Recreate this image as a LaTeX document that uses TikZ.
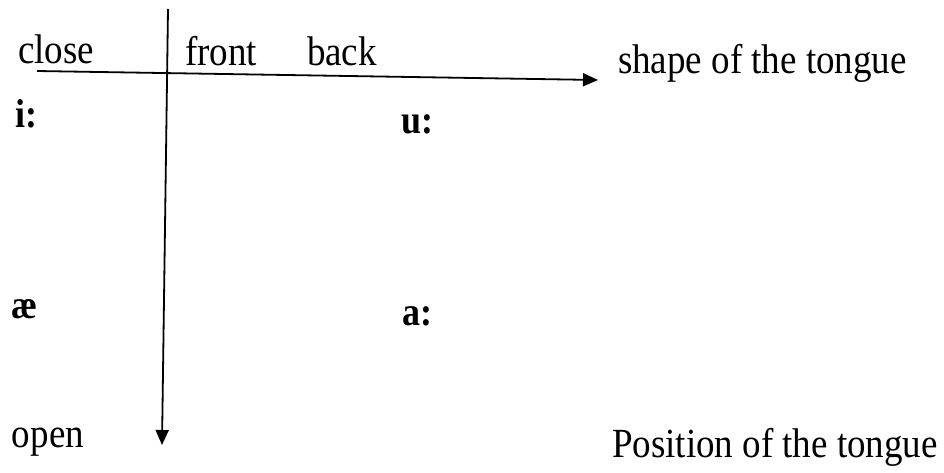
\documentclass[tikz,border=0pt]{standalone}
\usepackage{fontspec}
\setmainfont{Liberation Serif}
\usepackage{graphicx}
\usetikzlibrary{arrows.meta}
\newcommand{\vstretch}[1]{\scalebox{1}[1.12]{#1}}
\tikzset{
  lbl/.style={inner sep=0pt, outer sep=0pt, anchor=base west, font=\fontsize{37}{40}\selectfont},
  vowel/.style={inner sep=0pt, outer sep=0pt, anchor=base west, font=\fontsize{36}{40}\selectfont\bfseries},
  axis/.style={line width=1.8pt, -{Triangle[length=15pt,width=13pt]}}
}
\begin{document}
\begin{tikzpicture}[x=1pt,y=-1pt]
\useasboundingbox[fill=white] (0,0) rectangle (944,472);
\coordinate (hstart) at (37,71);
\coordinate (hend) at (598,80);
\coordinate (vstart) at (168,9);
\coordinate (vend) at (162,445);
\draw[axis] (hstart) -- (hend);
\draw[axis] (vstart) -- (vend);
\node[lbl] (close) at (18,63) {\vstretch{close}};
\node[lbl] (front) at (185,65) {\vstretch{front}};
\node[lbl] (back) at (307,65) {\vstretch{back}};
\node[lbl] (shape) at (618,73) {\vstretch{shape of the tongue}};
\node[vowel] (ii) at (15,127) {\vstretch{i:}};
\node[vowel] (uu) at (401,133) {\vstretch{u:}};
\node[vowel] (ae) at (12,318) {\vstretch{æ}};
\node[vowel] (aa) at (402,325) {\vstretch{a:}};
\node[lbl] (open) at (12,447) {\vstretch{open}};
\node[lbl] (pos) at (612,457) {\vstretch{Position of the tongue}};
\end{tikzpicture}
\end{document}
